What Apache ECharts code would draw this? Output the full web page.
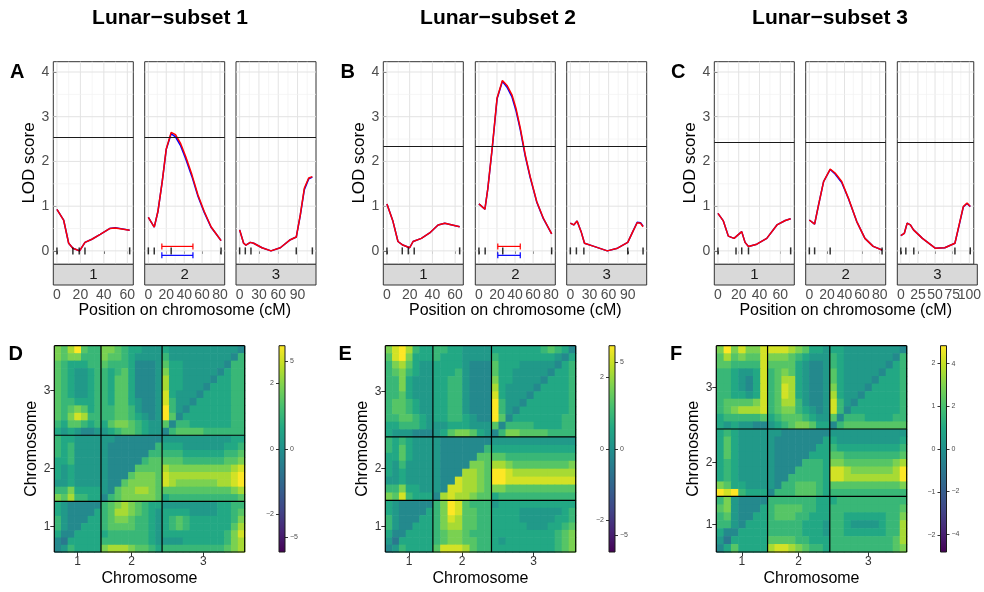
<!DOCTYPE html>
<html>
<head>
<meta charset="utf-8">
<script src="https://cdn.jsdelivr.net/npm/echarts@6/dist/echarts.min.js"></script>
<style>
  html, body { margin: 0; padding: 0; background: #fff; }
  #chart { width: 984px; height: 592px; }
</style>
</head>
<body>
<div id="chart"></div>
<script>
// ---------------- LOD profiles: position (cM) and LOD score ----------------
const A1_POS  = [0, 5.7, 10, 13.6, 19.3, 23.9, 29.8, 36.9, 44.9, 49.7, 62];
const A1_RED  = [0.93, 0.69, 0.17, 0.06, 0.00, 0.19, 0.26, 0.37, 0.50, 0.51, 0.46];
const A1_BLUE = [0.93, 0.69, 0.17, 0.06, 0.00, 0.19, 0.26, 0.37, 0.50, 0.52, 0.46];
const A1_MARKERS = [0, 13.6, 19, 23.9, 62];

const A2_POS  = [0, 6.6, 10.7, 15.5, 20, 25.5, 30.3, 35.8, 41.7, 48.7, 55.4, 62.4, 70, 76.4, 81.2];
const A2_RED  = [0.75, 0.53, 0.88, 1.55, 2.28, 2.65, 2.60, 2.41, 2.11, 1.70, 1.25, 0.88, 0.54, 0.36, 0.23];
const A2_BLUE = [0.75, 0.53, 0.88, 1.55, 2.27, 2.62, 2.55, 2.36, 2.06, 1.66, 1.22, 0.86, 0.53, 0.36, 0.23];
const A2_MARKERS = [0, 6.6, 25.5, 81.2];
const A2_CI_RED  = [15.1, 49.8];
const A2_CI_BLUE = [15.1, 49.8];

const A3_POS  = [0, 6.2, 9.8, 16.6, 21.8, 34.7, 48.7, 63.2, 78.8, 88, 94.3, 100.5, 107.3, 113];
const A3_RED  = [0.47, 0.17, 0.13, 0.19, 0.17, 0.07, 0.00, 0.07, 0.25, 0.31, 0.81, 1.40, 1.63, 1.66];
const A3_BLUE = [0.47, 0.17, 0.13, 0.19, 0.17, 0.07, 0.00, 0.07, 0.25, 0.31, 0.80, 1.37, 1.61, 1.65];
const A3_MARKERS = [0, 8.8, 17.6, 88, 113];

const B1_POS  = [0, 5.3, 9.7, 14, 20, 23, 30.3, 37.6, 45, 50.9, 64];
const B1_RED  = [1.05, 0.66, 0.21, 0.13, 0.07, 0.21, 0.28, 0.40, 0.58, 0.62, 0.54];
const B1_BLUE = [1.05, 0.66, 0.21, 0.13, 0.07, 0.21, 0.28, 0.40, 0.58, 0.62, 0.54];
const B1_MARKERS = [0, 13.5, 18.8, 24, 64];

const B2_POS  = [0, 6.6, 9.9, 14.7, 20.1, 26, 31.1, 36.6, 41, 45.8, 51.3, 56.8, 64.1, 71.4, 80.6];
const B2_RED  = [1.05, 0.93, 1.40, 2.30, 3.42, 3.81, 3.70, 3.49, 3.19, 2.75, 2.15, 1.66, 1.10, 0.73, 0.38];
const B2_BLUE = [1.05, 0.93, 1.40, 2.29, 3.40, 3.79, 3.66, 3.44, 3.14, 2.71, 2.12, 1.64, 1.09, 0.72, 0.38];
const B2_MARKERS = [0, 6.9, 26.4, 80.6];
const B2_CI_RED  = [20.9, 45.8];
const B2_CI_BLUE = [20.9, 45.8];

const B3_POS  = [0, 5.3, 10.6, 16.9, 22.2, 37, 58, 74, 90, 97.9, 104.8, 110, 114];
const B3_RED  = [0.62, 0.58, 0.67, 0.43, 0.17, 0.10, 0.00, 0.06, 0.19, 0.43, 0.63, 0.62, 0.54];
const B3_BLUE = [0.62, 0.58, 0.67, 0.43, 0.17, 0.10, 0.00, 0.06, 0.19, 0.43, 0.64, 0.63, 0.55];
const B3_MARKERS = [0, 9.5, 21.2, 90, 114];

const C1_POS  = [0, 5.2, 10, 15.5, 22.9, 26.1, 29.4, 37.4, 47, 56.8, 64.8, 70];
const C1_RED  = [0.84, 0.67, 0.33, 0.28, 0.43, 0.19, 0.10, 0.15, 0.28, 0.58, 0.68, 0.72];
const C1_BLUE = [0.84, 0.67, 0.33, 0.28, 0.43, 0.19, 0.10, 0.15, 0.28, 0.58, 0.68, 0.72];
const C1_MARKERS = [0, 17.4, 22.9, 29.4, 70];

const C2_POS  = [0, 6, 10.5, 16.2, 23.7, 29.3, 36.8, 44.4, 53.8, 63.2, 72.6, 82.7];
const C2_RED  = [0.69, 0.60, 1.03, 1.55, 1.83, 1.74, 1.55, 1.18, 0.66, 0.28, 0.10, 0.02];
const C2_BLUE = [0.69, 0.60, 1.03, 1.55, 1.82, 1.72, 1.53, 1.17, 0.66, 0.28, 0.10, 0.02];
const C2_MARKERS = [0, 6, 23.7, 82.7];

const C3_POS  = [0, 5.1, 9.3, 14, 18.6, 31.6, 50.2, 64.2, 79, 85.1, 91.2, 96.7, 101.4];
const C3_RED  = [0.34, 0.39, 0.62, 0.58, 0.47, 0.28, 0.06, 0.07, 0.17, 0.58, 0.99, 1.07, 0.99];
const C3_BLUE = [0.34, 0.39, 0.62, 0.58, 0.47, 0.28, 0.06, 0.07, 0.17, 0.57, 0.98, 1.06, 0.99];
const C3_MARKERS = [0, 7.4, 19, 79, 101.4];

// significance thresholds
const THRESHOLDS = [2.54, 2.34, 2.43];

// tick labels
const SUBSET_TITLES = ['Lunar\u2212subset 1', 'Lunar\u2212subset 2', 'Lunar\u2212subset 3'];
const TOP_LETTERS = ['A', 'B', 'C'];
const BOTTOM_LETTERS = ['D', 'E', 'F'];
const CHROM_NAMES = ['1', '2', '3'];
const LOD_TICKS = [0, 1, 2, 3, 4];
const X_TICKS_AB = [[0, 20, 40, 60], [0, 20, 40, 60, 80], [0, 30, 60, 90]];
const X_TICKS_C  = [[0, 20, 40, 60], [0, 20, 40, 60, 80], [0, 25, 50, 75, 100]];

// ---------------- two-locus heatmaps ----------------
// grid positions per chromosome (1, 2, 3) and coarse cells per chromosome
const HEAT_D_SPAN = [13, 17, 23];
const HEAT_D_CELLS = [7, 9, 12];
// colour level 0-9 per cell; rows listed top (chr 3) to bottom (chr 1)
const HEAT_D_ROWS = [
  "6579544665433222322222222221",
  "6566444655432222422222222214",
  "5433344544431112533222222144",
  "5432234434531112633222221344",
  "5432234435531112733222213344",
  "5432234435531112733222133344",
  "5432234435531112832221333344",
  "5443334435532112842213333344",
  "5456534445542112942133333344",
  "5468744445543212951333333344",
  "4355434356654322514433333344",
  "3232112234554322145555444444",
  "4332222221111111222222222233",
  "4342222211111114333222222334",
  "4342222211111144444333333445",
  "3342222211111455555444444556",
  "3232222211115555766666666678",
  "3232222211156665877777777789",
  "2232222211566665876666667789",
  "4463333215667765555555555567",
  "6574433145666665344444444445",
  "3211111456765433222222223344",
  "3211113457765432333322223345",
  "4211133456654432345433333346",
  "4211333455554432345433333357",
  "3113333344444432333333333468",
  "1033333444444432222333333467",
  "1243333677765543444444444567"
];

const HEAT_E_SPAN = [13, 16, 23];
const HEAT_E_CELLS = [7, 8, 12];
const HEAT_E_ROWS = [
  "689743344332222333333345431",
  "589633343332222433333333213",
  "467532233332111533322222134",
  "456432233342111533222221334",
  "446322233442111633222213334",
  "446322233442111732222133334",
  "445322233442111832221333334",
  "455432233442111942213333334",
  "455432233442111942133333334",
  "445543233443211951333333344",
  "334443222333222514444333344",
  "322211123566532146655554444",
  "434322221111111222222222222",
  "435322221111114333333333333",
  "335322221111155554444444444",
  "324222221111665776555555556",
  "323222221117765998777777777",
  "223222221187765998888888888",
  "446332221887765665555555555",
  "658433317877655344444444444",
  "321111146985444233333333333",
  "321111346985544333322222234",
  "421113346875544333322222334",
  "421133346775544333332223345",
  "311333345665444333333333456",
  "203333345665544323333333456",
  "124333358887544333333333456"
];

const HEAT_F_SPAN = [14, 17, 21];
const HEAT_F_CELLS = [7, 9, 11];
const HEAT_F_ROWS = [
  "696866888876533233222222221",
  "575655866654322243222222214",
  "554444855553211243222222134",
  "443223845653211253222221334",
  "443213845773211253222213334",
  "443213845873211263222133334",
  "443323845873211273221333334",
  "455556845774211284213333334",
  "456777845664321284133333334",
  "344444534555432251444333344",
  "323221123456653314555555555",
  "343222222111111122222222222",
  "353222221111111332222222223",
  "353222221111113343333333334",
  "353222221111133355444444445",
  "343222221111444366555555567",
  "343222221114444388766666679",
  "343222221144444388777777779",
  "653322221445554355555555556",
  "989433314445554344444444444",
  "462111144444443334444444444",
  "562111345555443344444444445",
  "452113345554433344333333446",
  "442133344444333244322223447",
  "311333344444333244333333447",
  "203333355554433344444444457",
  "135333378876544344444444456"
];

// colour bar ranges and tick labels (left axis / right axis)
const BAR_LEFT_MAX  = [3.14, 2.89, 2.40];
const BAR_RIGHT_MAX = [5.86, 5.97, 4.84];
const BAR_LEFT_TICKS  = [[-2, 0, 2], [-2, 0, 2], [-2, -1, 0, 1, 2]];
const BAR_RIGHT_TICKS = [[-5, 0, 5], [-5, 0, 5], [-4, -2, 0, 2, 4]];

// ---------------- styling / layout ----------------
const FONT = '"Liberation Sans", Arial, Helvetica, sans-serif';
const VIRIDIS = ['#440154', '#482475', '#414487', '#355f8d', '#2a788e', '#21918c',
                 '#22a884', '#44bf70', '#7ad151', '#bddf26', '#fde725'];
const LEVEL_MIN = -6, LEVEL_MAX = 9;   // levels 0..9 sit on the upper part of viridis
const TOP = 61.7, PANEL_H = 202.6, STRIP_H = 20.7, FACET_W = 80;
const FACET_LEFT = [[53.3, 144.7, 236], [383.3, 475.3, 566.7], [714.3, 805.7, 897.3]];
const Y_MIN = -0.3, Y_MAX = 4.23;
const CI_Y = { red: 0.1, blue: -0.1 };
const HEAT_LEFT = [54.3, 385.3, 716.3], HEAT_W = 190.4, HEAT_TOP = 345.7, HEAT_H = 206.3;
const BAR_LEFT = [279, 609, 940.5], BAR_W = 6;
const TITLE_X = [170, 498, 830];
const TOP_LETTER_X = [10, 340.5, 671];
const BOTTOM_LETTER_X = [8.5, 338.5, 670];

const SUBSETS = [
  { pos: [A1_POS, A2_POS, A3_POS], red: [A1_RED, A2_RED, A3_RED], blue: [A1_BLUE, A2_BLUE, A3_BLUE],
    markers: [A1_MARKERS, A2_MARKERS, A3_MARKERS], ci: [null, [A2_CI_RED, A2_CI_BLUE], null], ticks: X_TICKS_AB },
  { pos: [B1_POS, B2_POS, B3_POS], red: [B1_RED, B2_RED, B3_RED], blue: [B1_BLUE, B2_BLUE, B3_BLUE],
    markers: [B1_MARKERS, B2_MARKERS, B3_MARKERS], ci: [null, [B2_CI_RED, B2_CI_BLUE], null], ticks: X_TICKS_AB },
  { pos: [C1_POS, C2_POS, C3_POS], red: [C1_RED, C2_RED, C3_RED], blue: [C1_BLUE, C2_BLUE, C3_BLUE],
    markers: [C1_MARKERS, C2_MARKERS, C3_MARKERS], ci: [null, null, null], ticks: X_TICKS_C }
];
const HEATMAPS = [
  { span: HEAT_D_SPAN, cells: HEAT_D_CELLS, rows: HEAT_D_ROWS },
  { span: HEAT_E_SPAN, cells: HEAT_E_CELLS, rows: HEAT_E_ROWS },
  { span: HEAT_F_SPAN, cells: HEAT_F_CELLS, rows: HEAT_F_ROWS }
];

const grid = [], xAxis = [], yAxis = [], series = [], graphic = [];
const heatSeries = [];

const zip = (xs, ys) => xs.map((x, i) => [x, ys[i]]);

function minorValues(ticks, lo, hi) {
  const step = ticks[1] - ticks[0], out = [];
  for (let v = ticks[0] - step / 2; v <= ticks[ticks.length - 1] + step / 2 + 1e-9; v += step) {
    if (v > lo && v < hi) out.push(v);
  }
  return out;
}

// panel grid lines (vertical: dir 0, horizontal: dir 1)
function gridLineItem(params, api) {
  const cs = params.coordSys;
  const v = api.value(0), dir = api.value(1), major = api.value(2);
  const style = { stroke: major ? '#e3e3e3' : '#f1f1f1', lineWidth: major ? 1 : 0.7 };
  if (dir === 1) {
    const y = api.coord([0, v])[1];
    return { type: 'line', shape: { x1: cs.x, y1: y, x2: cs.x + cs.width, y2: y }, style };
  }
  const x = api.coord([v, 0])[0];
  return { type: 'line', shape: { x1: x, y1: cs.y, x2: x, y2: cs.y + cs.height }, style };
}

// ---------------- LOD facets ----------------
SUBSETS.forEach((sub, s) => {
  for (let c = 0; c < 3; c++) {
    const gi = grid.length;
    const left = FACET_LEFT[s][c];
    grid.push({ left, top: TOP, width: FACET_W, height: PANEL_H, show: true,
                borderColor: '#333', borderWidth: 1, backgroundColor: '#fff' });
    const L = Math.max(...sub.markers[c]);
    const xMin = -0.05 * L, xMax = 1.05 * L;
    const ticks = sub.ticks[c];
    const labelStyle = { fontSize: 14, color: '#4d4d4d', margin: 3, fontFamily: FONT,
                         interval: 0, hideOverlap: false, showMinLabel: true, showMaxLabel: true };
    const xi = xAxis.length;
    // even-indexed labels on the main axis, odd-indexed ones on an overlay axis,
    // so neighbouring labels are never culled when they touch
    xAxis.push({
      gridIndex: gi, type: 'value', min: xMin, max: xMax, position: 'bottom', offset: STRIP_H,
      axisLine: { show: false },
      axisTick: { show: true, length: 3, customValues: ticks, lineStyle: { color: '#333', width: 1 } },
      axisLabel: Object.assign({ customValues: ticks.filter((_, i) => i % 2 === 0) }, labelStyle),
      splitLine: { show: false },
      name: c === 1 ? 'Position on chromosome (cM)' : '',
      nameLocation: 'middle', nameGap: 18,
      nameTextStyle: { fontSize: 16, color: '#000', fontFamily: FONT }
    });
    xAxis.push({
      gridIndex: gi, type: 'value', min: xMin, max: xMax, position: 'bottom', offset: STRIP_H,
      axisLine: { show: false },
      axisTick: { show: false },
      axisLabel: Object.assign({ customValues: ticks.filter((_, i) => i % 2 === 1) }, labelStyle),
      splitLine: { show: false }
    });
    const yi = yAxis.length;
    yAxis.push({
      gridIndex: gi, type: 'value', min: Y_MIN, max: Y_MAX,
      axisLine: { show: false },
      axisTick: { show: c === 0, length: 3, customValues: LOD_TICKS, lineStyle: { color: '#333', width: 1 } },
      axisLabel: { show: c === 0, customValues: LOD_TICKS, fontSize: 14, color: '#4d4d4d', margin: 4, fontFamily: FONT },
      splitLine: { show: false },
      name: c === 0 ? 'LOD score' : '',
      nameLocation: 'middle', nameGap: 14,
      nameTextStyle: { fontSize: 17, color: '#000', fontFamily: FONT }
    });

    const lines = [];
    ticks.forEach(v => lines.push([v, 0, 1]));
    minorValues(ticks, xMin, xMax).forEach(v => lines.push([v, 0, 0]));
    LOD_TICKS.forEach(v => lines.push([v, 1, 1]));
    minorValues(LOD_TICKS, Y_MIN, Y_MAX).forEach(v => lines.push([v, 1, 0]));
    series.push({ type: 'custom', xAxisIndex: xi, yAxisIndex: yi, silent: true, z: 1,
                  renderItem: gridLineItem, data: lines });

    series.push({
      type: 'line', xAxisIndex: xi, yAxisIndex: yi, z: 2, symbol: 'none', silent: true,
      data: zip(sub.pos[c], sub.blue[c]),
      lineStyle: { color: '#0000ff', width: 1.5 },
      markLine: {
        silent: true, symbol: ['none', 'none'], label: { show: false },
        lineStyle: { color: '#1a1a1a', width: 1, type: 'solid' },
        data: [{ yAxis: THRESHOLDS[s] }]
      }
    });
    series.push({
      type: 'line', xAxisIndex: xi, yAxisIndex: yi, z: 3, symbol: 'none', silent: true,
      data: zip(sub.pos[c], sub.red[c]),
      lineStyle: { color: '#ff0000', width: 1.5 }
    });
    series.push({
      type: 'scatter', xAxisIndex: xi, yAxisIndex: yi, z: 4, silent: true,
      symbol: 'rect', symbolSize: [1.5, 7],
      itemStyle: { color: '#000' },
      data: sub.markers[c].map(m => [m, 0])
    });
    if (sub.ci[c]) {
      const [ciRed, ciBlue] = sub.ci[c];
      series.push({
        type: 'custom', xAxisIndex: xi, yAxisIndex: yi, z: 5, silent: true,
        data: [[ciRed[0], ciRed[1], 0], [ciBlue[0], ciBlue[1], 1]],
        renderItem(params, api) {
          const isBlue = api.value(2) === 1;
          const yv = isBlue ? CI_Y.blue : CI_Y.red;
          const a = api.coord([api.value(0), yv]), b = api.coord([api.value(1), yv]);
          const style = { stroke: isBlue ? '#0000ff' : '#ff0000', lineWidth: 1.2 };
          return { type: 'group', children: [
            { type: 'line', shape: { x1: a[0], y1: a[1], x2: b[0], y2: b[1] }, style },
            { type: 'line', shape: { x1: a[0], y1: a[1] - 3, x2: a[0], y2: a[1] + 3 }, style },
            { type: 'line', shape: { x1: b[0], y1: b[1] - 3, x2: b[0], y2: b[1] + 3 }, style }
          ] };
        }
      });
    }

    // facet strip below the panel
    graphic.push({ type: 'rect', z: 10, silent: true,
      shape: { x: left, y: TOP + PANEL_H, width: FACET_W, height: STRIP_H },
      style: { fill: '#d9d9d9', stroke: '#333', lineWidth: 1 } });
    graphic.push({ type: 'text', z: 11, silent: true, x: left + FACET_W / 2, y: TOP + PANEL_H + STRIP_H / 2 + 0.5,
      style: { text: CHROM_NAMES[c], align: 'center', verticalAlign: 'middle', fontSize: 15,
               fill: '#1a1a1a', fontFamily: FONT } });
  }
});

// ---------------- heatmaps ----------------
function heatCell(params, api) {
  const a = api.coord([api.value(0), api.value(3)]);
  const b = api.coord([api.value(1), api.value(2)]);
  return { type: 'rect', shape: { x: a[0], y: a[1], width: b[0] - a[0] + 0.6, height: b[1] - a[1] + 0.6 },
           style: { fill: api.visual('color') } };
}
function boundaryItem(params, api) {
  const cs = params.coordSys;
  const v = api.value(0), dir = api.value(1);
  const style = { stroke: '#000', lineWidth: 1.2 };
  if (dir === 1) {
    const y = api.coord([0, v])[1];
    return { type: 'line', shape: { x1: cs.x, y1: y, x2: cs.x + cs.width, y2: y }, style };
  }
  const x = api.coord([v, 0])[0];
  return { type: 'line', shape: { x1: x, y1: cs.y, x2: x, y2: cs.y + cs.height }, style };
}

HEATMAPS.forEach((hm, p) => {
  const gi = grid.length;
  grid.push({ left: HEAT_LEFT[p], top: HEAT_TOP, width: HEAT_W, height: HEAT_H });
  const offsets = [0];
  hm.span.forEach(sp => offsets.push(offsets[offsets.length - 1] + sp));
  const total = offsets[3];
  const centers = hm.span.map((sp, i) => offsets[i] + sp / 2);
  const chromLabel = v => CHROM_NAMES[centers.findIndex(cc => Math.abs(cc - v) < 1e-6)] || '';

  const xi = xAxis.length;
  xAxis.push({
    gridIndex: gi, type: 'value', min: 0, max: total,
    axisLine: { show: false },
    axisTick: { show: true, length: 4, customValues: centers, lineStyle: { color: '#333' } },
    axisLabel: { customValues: centers, formatter: chromLabel, fontSize: 12, color: '#333', margin: 4, fontFamily: FONT },
    splitLine: { show: false },
    name: 'Chromosome', nameLocation: 'middle', nameGap: 19,
    nameTextStyle: { fontSize: 16, color: '#000', fontFamily: FONT }
  });
  const yi = yAxis.length;
  yAxis.push({
    gridIndex: gi, type: 'value', min: 0, max: total,
    axisLine: { show: false },
    axisTick: { show: true, length: 4, customValues: centers, lineStyle: { color: '#333' } },
    axisLabel: { customValues: centers, formatter: chromLabel, fontSize: 12, color: '#333', margin: 4, fontFamily: FONT },
    splitLine: { show: false },
    name: 'Chromosome', nameLocation: 'middle', nameGap: 14,
    nameTextStyle: { fontSize: 16, color: '#000', fontFamily: FONT }
  });

  // cell edges along one axis, chromosome by chromosome
  const edges = [];
  hm.span.forEach((sp, ci) => {
    const n = hm.cells[ci];
    for (let k = 0; k < n; k++) edges.push([offsets[ci] + k * sp / n, offsets[ci] + (k + 1) * sp / n]);
  });
  const N = hm.rows.length;
  const cells = [];
  hm.rows.forEach((row, i) => {
    const g = N - 1 - i;
    for (let j = 0; j < row.length; j++) {
      cells.push([edges[j][0], edges[j][1], edges[g][0], edges[g][1], Number(row[j])]);
    }
  });
  heatSeries.push(series.length);
  series.push({ type: 'custom', xAxisIndex: xi, yAxisIndex: yi, silent: true, z: 2,
                renderItem: heatCell, data: cells, encode: { x: [0, 1], y: [2, 3] } });

  const bounds = [];
  offsets.forEach(v => { bounds.push([v, 0]); bounds.push([v, 1]); });
  series.push({ type: 'custom', xAxisIndex: xi, yAxisIndex: yi, silent: true, z: 3,
                renderItem: boundaryItem, data: bounds });

  // colour bar with two scales
  const bg = grid.length;
  grid.push({ left: BAR_LEFT[p], top: HEAT_TOP, width: BAR_W, height: HEAT_H });
  const bx = xAxis.length;
  xAxis.push({ gridIndex: bg, type: 'value', min: 0, max: 1, show: false });
  const byL = yAxis.length;
  yAxis.push({
    gridIndex: bg, type: 'value', position: 'left', min: -BAR_LEFT_MAX[p], max: BAR_LEFT_MAX[p],
    axisLine: { show: false },
    axisTick: { show: true, length: 3, customValues: BAR_LEFT_TICKS[p], lineStyle: { color: '#333' } },
    axisLabel: { customValues: BAR_LEFT_TICKS[p], fontSize: 7, color: '#4d4d4d', margin: 5, fontFamily: FONT,
                 formatter: v => String(v).replace('-', '\u2212') },
    splitLine: { show: false }
  });
  yAxis.push({
    gridIndex: bg, type: 'value', position: 'right', min: -BAR_RIGHT_MAX[p], max: BAR_RIGHT_MAX[p],
    axisLine: { show: false },
    axisTick: { show: true, length: 3, customValues: BAR_RIGHT_TICKS[p], lineStyle: { color: '#333' } },
    axisLabel: { customValues: BAR_RIGHT_TICKS[p], fontSize: 7, color: '#4d4d4d', margin: 5, fontFamily: FONT,
                 formatter: v => String(v).replace('-', '\u2212') },
    splitLine: { show: false }
  });
  series.push({
    type: 'custom', xAxisIndex: bx, yAxisIndex: byL, silent: true, z: 2, data: [[0.5, 0]],
    renderItem(params) {
      const cs = params.coordSys;
      const stops = VIRIDIS.map((col, i) => ({ offset: i / (VIRIDIS.length - 1), color: col }));
      return { type: 'rect', shape: { x: cs.x, y: cs.y, width: cs.width, height: cs.height },
               style: { fill: new echarts.graphic.LinearGradient(0, 1, 0, 0, stops), stroke: '#1a1a1a', lineWidth: 1 } };
    }
  });
});

// ---------------- titles and panel letters ----------------
SUBSET_TITLES.forEach((t, i) => {
  graphic.push({ type: 'text', x: TITLE_X[i], y: 18, silent: true,
    style: { text: t, align: 'center', verticalAlign: 'middle', fontSize: 21, fontWeight: 'bold', fill: '#000', fontFamily: FONT } });
  graphic.push({ type: 'text', x: TOP_LETTER_X[i], y: 72, silent: true,
    style: { text: TOP_LETTERS[i], align: 'left', verticalAlign: 'middle', fontSize: 20, fontWeight: 'bold', fill: '#000', fontFamily: FONT } });
  graphic.push({ type: 'text', x: BOTTOM_LETTER_X[i], y: 354, silent: true,
    style: { text: BOTTOM_LETTERS[i], align: 'left', verticalAlign: 'middle', fontSize: 20, fontWeight: 'bold', fill: '#000', fontFamily: FONT } });
});

const chart = echarts.init(document.getElementById('chart'), null, { renderer: 'canvas', width: 984, height: 592 });
chart.setOption({
  animation: false,
  backgroundColor: '#fff',
  textStyle: { fontFamily: FONT },
  grid, xAxis, yAxis, series,
  visualMap: {
    type: 'continuous', show: false, seriesIndex: heatSeries, dimension: 4,
    min: LEVEL_MIN, max: LEVEL_MAX, inRange: { color: VIRIDIS }
  },
  graphic: { elements: graphic }
});
</script>
</body>
</html>
